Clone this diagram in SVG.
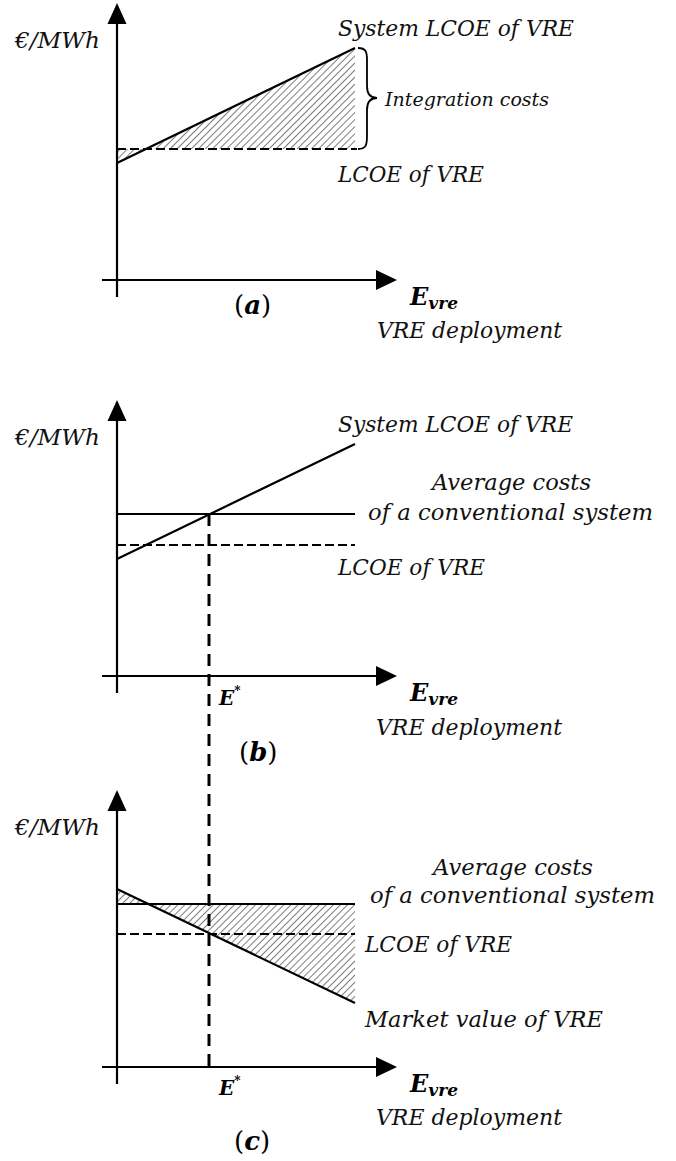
<svg xmlns="http://www.w3.org/2000/svg" width="676" height="1161" viewBox="0 0 676 1161">
<style>
.ax{stroke:#000;stroke-width:2.2;fill:none}
.ln{stroke:#000;stroke-width:2.2;fill:none}
.dl{stroke:#000;stroke-width:2;fill:none;stroke-dasharray:9 4}
.vd{stroke:#000;stroke-width:3;fill:none;stroke-dasharray:12 8}
.ah{fill:#000}
.h{fill:url(#hatch);stroke:none}
.t{font-family:"DejaVu Serif","Liberation Serif",serif;font-style:italic;font-size:23px;fill:#111}
.ts{font-family:"DejaVu Serif","Liberation Serif",serif;font-style:italic;font-size:18px;fill:#111}
.b{font-family:"DejaVu Serif","Liberation Serif",serif;font-style:italic;font-weight:bold;fill:#000}
.p{font-family:"DejaVu Serif","Liberation Serif",serif;font-size:26px;fill:#000}
</style>
<defs>
<pattern id="hatch" patternUnits="userSpaceOnUse" width="5" height="5" patternTransform="rotate(45)">
<line x1="0" y1="-1" x2="0" y2="6" stroke="#505050" stroke-width="1.5"/>
</pattern>
</defs>

<g id="panel-a">
<polygon class="h" points="146,149 355,48 355,149"/>
<polygon class="h" points="117,149 146,149 117,163"/>
<line class="ax" x1="117" y1="20" x2="117" y2="297"/>
<polygon class="ah" points="117,3 107.5,24 126.5,24"/>
<line class="ax" x1="102" y1="280" x2="380" y2="280"/>
<polygon class="ah" points="397,280 376,270 376,290"/>
<line class="ln" x1="117" y1="163" x2="355" y2="48"/>
<line class="dl" x1="117" y1="149" x2="357" y2="149"/>
<path d="M358,48 C366,48 367,52 367,60 L367,86 C367,94 370,98 377,98 C370,98 367,102 367,110 L367,136 C367,145 366,149 358,149" fill="none" stroke="#000" stroke-width="1.8"/>
<text class="t" x="15" y="48" textLength="85" lengthAdjust="spacingAndGlyphs">€/MWh</text>
<text class="t" x="338" y="36" textLength="236" lengthAdjust="spacingAndGlyphs">System LCOE of VRE</text>
<text class="ts" x="385" y="106" textLength="164" lengthAdjust="spacingAndGlyphs">Integration costs</text>
<text class="t" x="338" y="182" textLength="146" lengthAdjust="spacingAndGlyphs">LCOE of VRE</text>
<text class="b" x="410" y="305"><tspan font-size="24">E</tspan><tspan font-size="17" dy="4">vre</tspan></text>
<text class="t" x="377" y="338" textLength="185" lengthAdjust="spacingAndGlyphs">VRE deployment</text>
<text class="p" x="234" y="314">(<tspan class="b">a</tspan>)</text>
</g>

<g id="panel-b">
<line class="ax" x1="117" y1="417" x2="117" y2="693"/>
<polygon class="ah" points="117,400 107.5,421 126.5,421"/>
<line class="ax" x1="102" y1="676" x2="380" y2="676"/>
<polygon class="ah" points="397,676 376,666 376,686"/>
<line class="ln" x1="117" y1="559" x2="355" y2="444"/>
<line class="ln" x1="117" y1="514" x2="355" y2="514"/>
<line class="dl" x1="117" y1="545" x2="355" y2="545"/>
<text class="t" x="15" y="445" textLength="85" lengthAdjust="spacingAndGlyphs">€/MWh</text>
<text class="t" x="338" y="432" textLength="235" lengthAdjust="spacingAndGlyphs">System LCOE of VRE</text>
<text class="t" x="432" y="490" textLength="159" lengthAdjust="spacingAndGlyphs">Average costs</text>
<text class="t" x="368" y="520" textLength="285" lengthAdjust="spacingAndGlyphs">of a conventional system</text>
<text class="t" x="338" y="575" textLength="147" lengthAdjust="spacingAndGlyphs">LCOE of VRE</text>
<text class="b" x="219" y="705"><tspan font-size="20">E</tspan><tspan font-size="12" dy="-10">*</tspan></text>
<text class="b" x="410" y="701"><tspan font-size="24">E</tspan><tspan font-size="17" dy="4">vre</tspan></text>
<text class="t" x="376" y="735" textLength="186" lengthAdjust="spacingAndGlyphs">VRE deployment</text>
<text class="p" x="239" y="761">(<tspan class="b">b</tspan>)</text>
</g>

<g id="panel-c">
<polygon class="h" points="148,904 355,904 355,1003"/>
<polygon class="h" points="117,889 148,904 117,904"/>
<line class="ax" x1="117" y1="807" x2="117" y2="1084"/>
<polygon class="ah" points="117,790 107.5,811 126.5,811"/>
<line class="ax" x1="102" y1="1067" x2="380" y2="1067"/>
<polygon class="ah" points="397,1067 376,1057 376,1077"/>
<line class="ln" x1="117" y1="889" x2="355" y2="1003"/>
<line class="ln" x1="117" y1="904" x2="355" y2="904"/>
<line class="dl" x1="117" y1="934" x2="355" y2="934"/>
<text class="t" x="15" y="835" textLength="85" lengthAdjust="spacingAndGlyphs">€/MWh</text>
<text class="t" x="433" y="875" textLength="160" lengthAdjust="spacingAndGlyphs">Average costs</text>
<text class="t" x="370" y="903" textLength="285" lengthAdjust="spacingAndGlyphs">of a conventional system</text>
<text class="t" x="365" y="952" textLength="147" lengthAdjust="spacingAndGlyphs">LCOE of VRE</text>
<text class="t" x="365" y="1027" textLength="238" lengthAdjust="spacingAndGlyphs">Market value of VRE</text>
<text class="b" x="219" y="1095"><tspan font-size="20">E</tspan><tspan font-size="12" dy="-10">*</tspan></text>
<text class="b" x="410" y="1092"><tspan font-size="24">E</tspan><tspan font-size="17" dy="4">vre</tspan></text>
<text class="t" x="376" y="1125" textLength="186" lengthAdjust="spacingAndGlyphs">VRE deployment</text>
<text class="p" x="234" y="1150">(<tspan class="b">c</tspan>)</text>
</g>

<g id="connectors">
<line class="vd" x1="209" y1="514" x2="209" y2="1067"/>
</g>
</svg>
